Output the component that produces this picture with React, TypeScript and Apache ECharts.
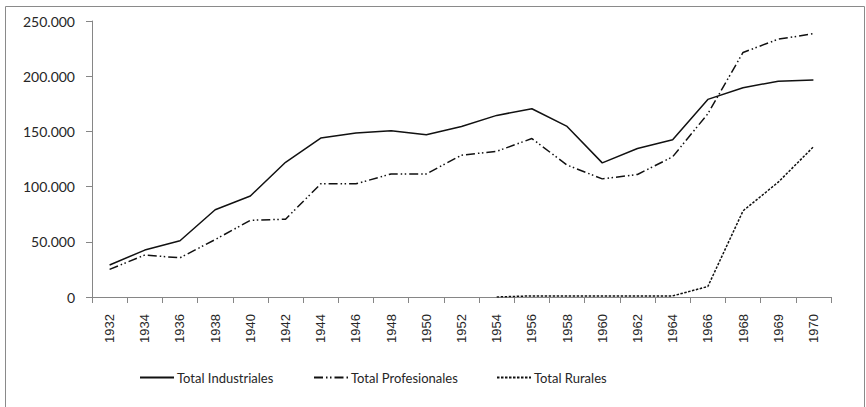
import React, { useEffect, useRef } from "react";
import * as echarts from "echarts";

const years = ["1932","1934","1936","1938","1940","1942","1944","1946","1948","1950","1952","1954","1956","1958","1960","1962","1964","1966","1968","1969","1970"];
const industriales = [29000,42500,51000,79000,91500,122000,144000,148500,150500,147000,154500,164500,170500,154500,121500,134500,142500,179000,189500,195500,196500];
const profesionales = [25000,38000,35500,52000,69500,70500,102500,102500,111500,111500,128500,132000,143500,119500,107000,111000,127000,166000,221500,233500,238500];
const rurales = [null,null,null,null,null,null,null,null,null,null,null,0,1000,1000,1000,1000,1000,9500,78000,104000,136000];
const yTicks = { min: 0, max: 250000, interval: 50000 };

const fmt = (v: number) => {
  const s = String(Math.round(v));
  return s.replace(/\B(?=(\d{3})+(?!\d))/g, ".");
};

export default function App() {
  const ref = useRef<HTMLDivElement>(null);
  useEffect(() => {
    const chart = echarts.init(ref.current!, null, { renderer: "svg" });
    const txt = "#262626";
    const font = "Lato, 'Open Sans', sans-serif";
    const legendBase = {
      top: 366,
      itemWidth: 34,
      itemHeight: 14,
      itemGap: 0,
      itemStyle: { opacity: 0 },
      textStyle: { color: txt, fontFamily: font, fontSize: 13, padding: [0, 0, 0, -2] },
    };
    chart.setOption({
      animation: false,
      backgroundColor: "#fff",
      graphic: [
        {
          type: "rect",
          shape: { x: 5.5, y: 6.5, width: 859, height: 410 },
          style: { fill: "none", stroke: "#8a8a8a", lineWidth: 1 },
          silent: true,
        },
      ],
      grid: { left: 92, top: 21, width: 739, height: 276, containLabel: false },
      xAxis: {
        type: "category",
        data: years,
        boundaryGap: true,
        axisLine: { lineStyle: { color: "#868686", width: 1 } },
        axisTick: { show: true, length: 6, alignWithLabel: false, lineStyle: { color: "#868686" } },
        axisLabel: {
          rotate: 90,
          interval: 0,
          margin: 17,
          color: txt,
          fontFamily: "'Liberation Sans', Arial, sans-serif",
          fontSize: 13,
        },
        splitLine: { show: false },
      },
      yAxis: {
        type: "value",
        min: yTicks.min,
        max: yTicks.max,
        interval: yTicks.interval,
        axisLine: { show: true, lineStyle: { color: "#868686", width: 1 } },
        axisTick: { show: true, length: 6, lineStyle: { color: "#868686" } },
        axisLabel: {
          margin: 17,
          color: txt,
          fontFamily: font,
          fontSize: 14,
          formatter: (v: number) => fmt(v),
        },
        splitLine: { show: false },
      },
      legend: [
        { ...legendBase, data: ["Total Industriales"], left: 134 },
        { ...legendBase, data: ["Total Profesionales"], left: 308 },
        { ...legendBase, data: ["Total Rurales"], left: 491 },
      ],
      series: [
        {
          name: "Total Industriales",
          type: "line",
          data: industriales,
          symbol: "none",
          color: "#111",
          lineStyle: { color: "#111", width: 1.5, type: "solid" },
        },
        {
          name: "Total Profesionales",
          type: "line",
          data: profesionales,
          symbol: "none",
          color: "#111",
          lineStyle: { color: "#111", width: 1.5, type: [9, 3, 1.5, 2.5, 1.5, 3] },
        },
        {
          name: "Total Rurales",
          type: "line",
          data: rurales,
          symbol: "none",
          color: "#111",
          lineStyle: { color: "#111", width: 1.5, type: [2.5, 1.5] },
        },
      ],
    });
    return () => chart.dispose();
  }, []);
  return (
    <div
      ref={ref}
      style={{ position: "fixed", left: 0, top: 0, width: 866, height: 407 }}
    />
  );
}
